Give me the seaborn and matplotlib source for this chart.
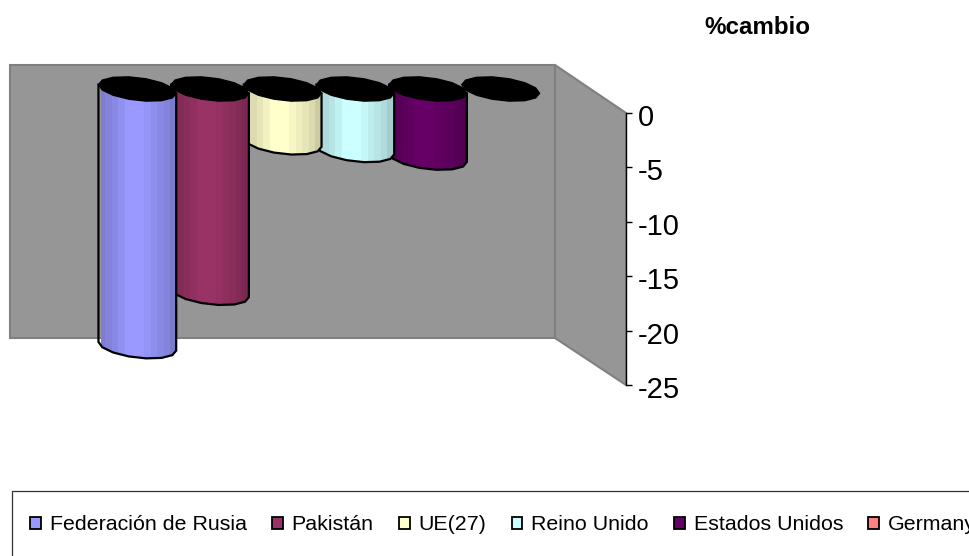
import matplotlib
matplotlib.use('Agg')
import matplotlib.pyplot as plt
from matplotlib.colors import to_rgb
from matplotlib.patches import Polygon, Rectangle
from matplotlib.transforms import ScaledTranslation
import numpy as np
import pandas as pd
import seaborn as sns

sns.set_theme(style='white')
plt.rcParams['font.family'] = ['Liberation Sans', 'DejaVu Sans']
plt.rcParams['axes.unicode_minus'] = False
plt.rcParams['text.color'] = 'black'

paises = ['Federación de Rusia', 'Pakistán', 'UE(27)', 'Reino Unido', 'Estados Unidos', 'Germany']
cambio = [-23.6, -18.7, -4.9, -5.6, -6.3, 0]
colores = ['#9999FF', '#993366', '#FFFFCC', '#CCFFFF', '#660066', '#FF8080']
ticks_y = [0, -5, -10, -15, -20, -25]
sombra = [0.82, 0.86, 0.9, 0.95, 1, 1, 1, 0.97, 0.93, 0.9, 0.86, 0.8]

W, H = 970, 556
fig = plt.figure(figsize=(W / 100, H / 100), dpi=100)

# paredes del grafico 3D y marco de la leyenda, en pixeles
fondo = fig.add_axes([0, 0, 1, 1])
fondo.set_xlim(0, W)
fondo.set_ylim(H, 0)
fondo.axis('off')
fondo.add_patch(Polygon([(10, 65), (555, 65), (555, 338), (10, 338)], fc='#969696', ec='#808080', lw=1.5))
fondo.add_patch(Polygon([(555, 65), (626, 113), (626, 385), (555, 338)], fc='#969696', ec='#808080', lw=1.5))
fondo.add_patch(Rectangle((12, 491), 990, 70, fc='white', ec='#333333', lw=0.9))

# barras
ax = fig.add_axes([101 / W, 1 - 370 / H, 436 / W, 310 / H])
df = pd.DataFrame({'pais': paises, 'cambio': cambio})
sns.barplot(data=df, x='pais', y='cambio', hue='pais', order=paises, hue_order=paises,
            palette=colores, saturation=1, width=1.07, ax=ax, legend=True)

b = 1.05
s = 0.4
t_abajo = np.linspace(np.pi, 2 * np.pi, 8)
t_todo = np.linspace(0, 2 * np.pi, 15)[:-1]
for i, barra in enumerate(ax.patches[:len(paises)]):
    x0 = barra.get_x()
    a = barra.get_width() / 2
    cx = x0 + a
    v = cambio[i]
    z = 20 - 2 * i
    barra.set_zorder(z)
    if v != 0:
        xs = cx + a * np.cos(t_abajo)
        ys = v + b * np.sin(t_abajo) - s * np.cos(t_abajo)
        verts = np.vstack([[[x0, s]], np.column_stack([xs, ys]), [[x0 + 2 * a, -s]]])
        cuerpo = Polygon(verts, closed=True, fc='none', ec='black', lw=1.6, zorder=z + 0.5, clip_on=False)
        ax.add_patch(cuerpo)
        barra.set_clip_path(cuerpo)
        rgb = np.array(to_rgb(colores[i]))
        img = np.array([[rgb * f for f in sombra]])
        im = ax.imshow(img, extent=(x0, x0 + 2 * a, v - 2, 0.5), aspect='auto',
                       interpolation='nearest', zorder=z + 0.2)
        im.set_clip_path(cuerpo)
    tapa = np.column_stack([cx + a * np.cos(t_todo), b * np.sin(t_todo) - s * np.cos(t_todo)])
    ax.add_patch(Polygon(tapa, closed=True, fc='black', ec='black', lw=1, zorder=z + 1, clip_on=False))
ax.set_xlim(-0.5, 5.5)
ax.set_ylim(-25.78, 2.66)
ax.axis('off')

sns.move_legend(ax, loc='center left', bbox_to_anchor=(30 / W, 1 - 525 / H), bbox_transform=fig.transFigure,
                ncol=6, title=None, frameon=False, fontsize=15.4, borderaxespad=0, borderpad=0,
                handlelength=0.5, handleheight=0.5, handletextpad=0.42, columnspacing=1.18)
leg = ax.get_legend()
leg.set_zorder(50)
for h in leg.legend_handles:
    h.set_edgecolor('black')
    h.set_linewidth(1.3)
for t in leg.get_texts():
    t.set_color('black')

# eje de valores
eje = fig.add_axes([626 / W, 1 - 385 / H, 0.0005, 272 / H])
eje.patch.set_visible(False)
eje.set_ylim(-25, 0)
eje.set_xticks([])
eje.set_yticks(ticks_y)
eje.yaxis.tick_right()
eje.spines[['top', 'bottom', 'right']].set_visible(False)
eje.spines['left'].set_color('black')
eje.spines['left'].set_linewidth(1)
eje.tick_params(axis='y', direction='out', length=4, width=1, color='black', pad=4, labelsize=21, labelcolor='black', right=True)
for lbl in eje.get_yticklabels():
    lbl.set_transform(lbl.get_transform() + ScaledTranslation(0, -0.02, fig.dpi_scale_trans))

fig.text(757 / W, 1 - 28 / H, '%cambio', ha='center', va='center', fontsize=17.4, fontweight='bold', color='black')

fig.savefig('out.png', dpi=100)
